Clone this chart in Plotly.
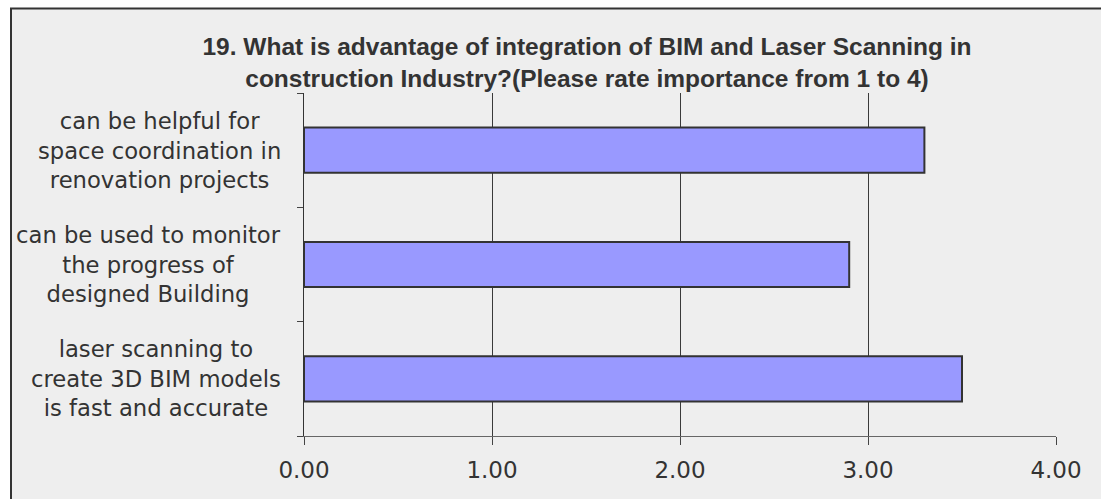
import plotly.graph_objects as go

# Survey item labels (bottom to top) and their mean importance ratings (1-4)
categories = [
    "laser scanning to<br>create 3D BIM models<br>is fast and accurate",
    "can be used to monitor<br>the progress of<br>designed Building",
    "can be helpful for<br>space coordination in<br>renovation projects",
]
ratings = [3.50, 2.90, 3.30]
x_ticks = [0, 1, 2, 3, 4]
x_tick_labels = ["0.00", "1.00", "2.00", "3.00", "4.00"]
title_text = ("19. What is advantage of integration of BIM and Laser Scanning in<br>"
              "construction Industry?(Please rate importance from 1 to 4)")

W, H = 1101, 499
L, R, T, B = 304, 45, 93, 63
pw, ph = W - L - R, H - T - B

fig = go.Figure(
    go.Bar(
        x=ratings,
        y=categories,
        orientation="h",
        width=0.395,
        marker=dict(color="#9999ff", line=dict(color="#333333", width=2)),
        hoverinfo="x+y",
    )
)

# Category labels, centred line by line, right edge just left of the axis
for cat in categories:
    fig.add_annotation(
        x=(283 - L) / pw, xref="paper", xanchor="right",
        y=cat, yref="y", yanchor="middle",
        text=cat, showarrow=False, align="center",
        font=dict(family="DejaVu Sans", size=22.7, color="#333333"),
    )

# Framed chart area
fig.add_shape(
    type="rect", xref="paper", yref="paper", layer="below",
    x0=(11 - L) / pw, x1=(W + 20 - L) / pw,
    y0=-(H + 20 - (H - B)) / ph, y1=((H - B) - 8.5) / ph,
    fillcolor="#eeeeee", line=dict(color="#333333", width=2),
)

fig.update_layout(
    width=W, height=H,
    margin=dict(l=L, r=R, t=T, b=B, pad=0),
    paper_bgcolor="white",
    plot_bgcolor="#eeeeee",
    showlegend=False,
    title=dict(
        text=title_text,
        x=587 / W, xanchor="center", xref="container",
        y=1 - 55 / H, yanchor="middle", yref="container",
        font=dict(family="Liberation Sans", size=24.5, color="#333333", weight="bold"),
    ),
    xaxis=dict(
        range=[0, 4], tickvals=x_ticks, ticktext=x_tick_labels,
        showgrid=True, gridcolor="#3a3a3a", gridwidth=1, zeroline=False,
        showline=True, linecolor="#666666", linewidth=1,
        ticks="outside", ticklen=8, tickcolor="#444444",
        ticklabelstandoff=5,
        tickfont=dict(family="DejaVu Sans", size=23, color="#333333"),
    ),
    yaxis=dict(
        type="category", categoryorder="array", categoryarray=categories,
        showticklabels=False, showgrid=False, zeroline=False,
        showline=True, linecolor="#333333", linewidth=1,
        ticks="outside", ticklen=6, tickcolor="#444444", tickson="boundaries",
    ),
)

fig.write_html("out.html")
